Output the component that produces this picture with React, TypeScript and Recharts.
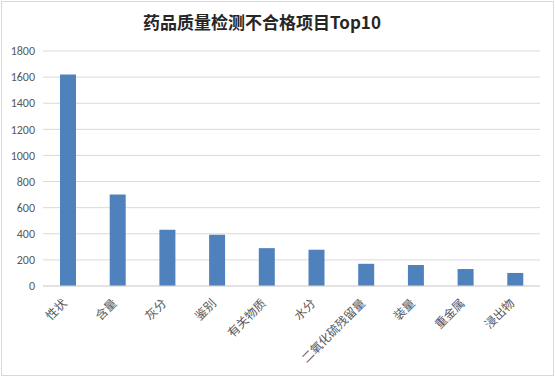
import React from "react";
import { BarChart, Bar, XAxis, YAxis, CartesianGrid } from "recharts";

const categories = ["性状", "含量", "灰分", "鉴别", "有关物质", "水分", "二氧化硫残留量", "装量", "重金属", "浸出物"];
const counts = [1620, 700, 430, 392, 290, 278, 170, 161, 130, 100];
const yTicks = [0, 200, 400, 600, 800, 1000, 1200, 1400, 1600, 1800];

const data = categories.map((name, i) => ({ name, value: counts[i] }));

const FONT = '"Noto Sans CJK SC", "Microsoft YaHei", sans-serif';

const XTick = (props: any) => {
  const { x, y, payload } = props;
  return (
    <g transform={`translate(${x},${y + 10})`}>
      <text
        x={0}
        y={0}
        textAnchor="end"
        fontSize={12}
        fill="#595959"
        fontFamily={FONT}
        transform="rotate(-45)"
      >
        {payload.value}
      </text>
    </g>
  );
};

export default function App() {
  return (
    <div style={{ position: "absolute", left: 0, top: 0, width: 555, height: 377, background: "#fff" }}>
      <div
        style={{
          position: "absolute",
          left: 1,
          top: 1,
          width: 551,
          height: 373,
          border: "1px solid #d9d9d9",
        }}
      />
      <div
        style={{
          position: "absolute",
          left: 0,
          top: 8,
          width: 524,
          textAlign: "center",
          fontFamily: FONT,
          fontWeight: 700,
          fontSize: 17,
          color: "#262626",
          lineHeight: "28px",
        }}
      >
        药品质量检测不合格项目Top10
      </div>
      <div style={{ position: "absolute", left: 0, top: 0 }}>
        <BarChart
          width={555}
          height={377}
          data={data}
          margin={{ top: 51, right: 15, left: 0, bottom: 5 }}
          barSize={16}
        >
          <CartesianGrid vertical={false} stroke="#d9d9d9" strokeWidth={1} />
          <XAxis
            dataKey="name"
            interval={0}
            height={86}
            axisLine={{ stroke: "#d9d9d9" }}
            tickLine={false}
            tick={<XTick />}
          />
          <YAxis
            width={43}
            domain={[0, 1800]}
            ticks={yTicks}
            interval={0}
            axisLine={false}
            tickLine={false}
            tick={{ fontSize: 12, fill: "#595959", fontFamily: "Calibri, Carlito, 'Liberation Sans', sans-serif" }}
          />
          <Bar dataKey="value" fill="#4F81BD" isAnimationActive={false} />
        </BarChart>
      </div>
    </div>
  );
}
